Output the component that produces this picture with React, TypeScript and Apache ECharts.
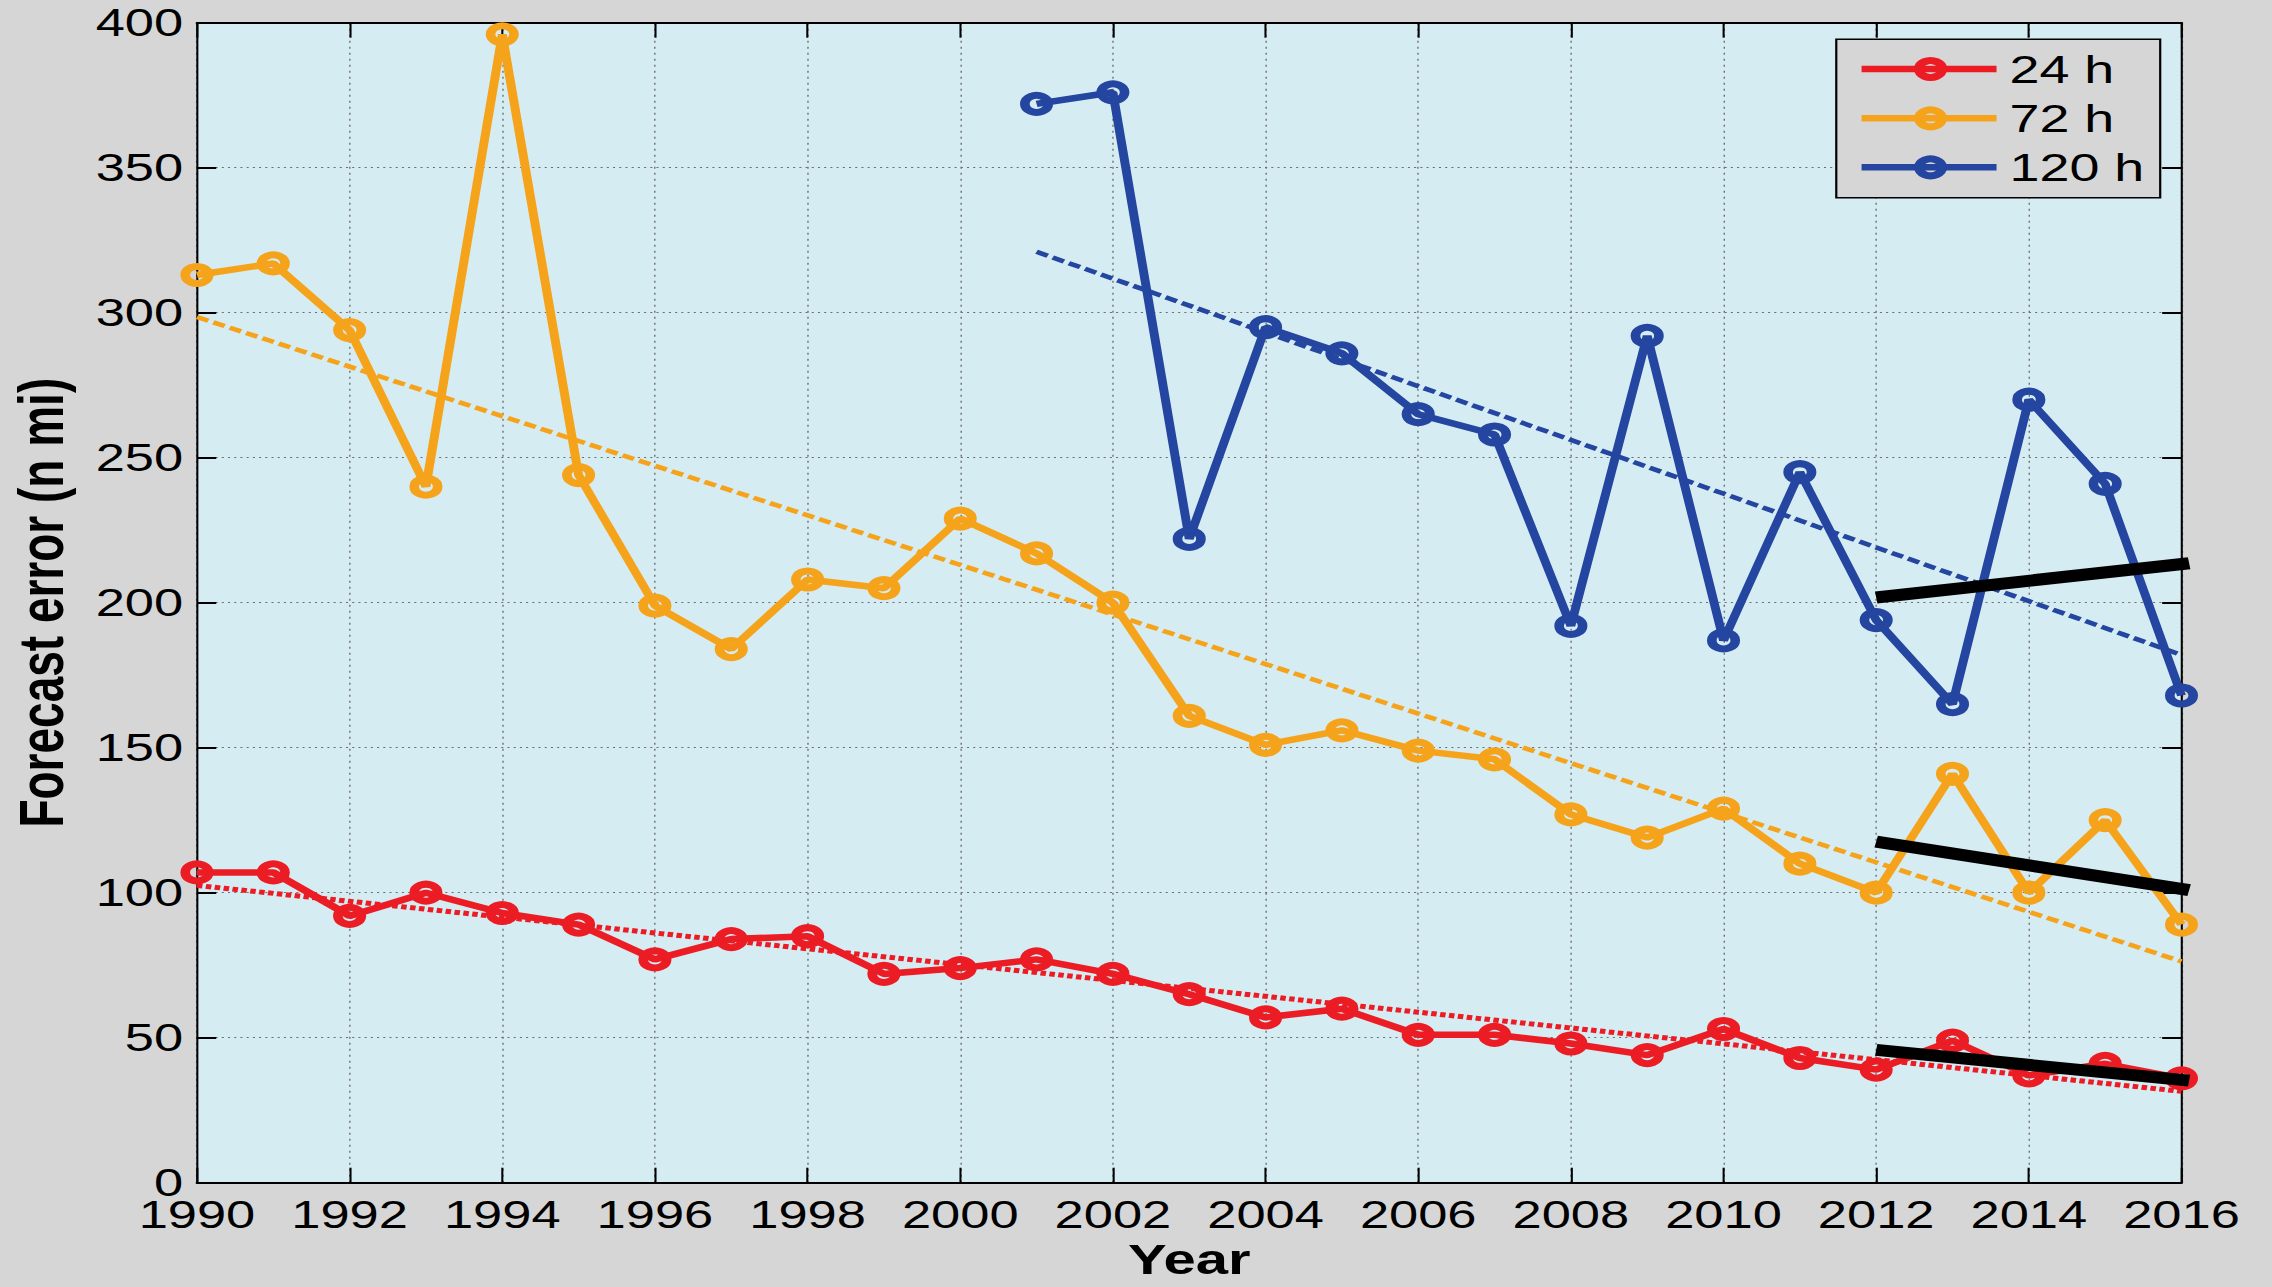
import React, { useEffect, useRef } from "react";
import * as echarts from "echarts";

// ---- data ----
const years = [1990, 1991, 1992, 1993, 1994, 1995, 1996, 1997, 1998, 1999, 2000, 2001, 2002, 2003, 2004, 2005, 2006, 2007, 2008, 2009, 2010, 2011, 2012, 2013, 2014, 2015, 2016];
const err24 = [107, 107, 92, 100, 93, 89, 77, 84, 85, 72, 74, 77, 72, 65, 57, 60, 51, 51, 48, 44, 53, 43, 39, 49, 37, 41, 36];
const err72 = [313, 317, 294, 240, 396, 244, 199, 184, 208, 205, 229, 217, 200, 161, 151, 156, 149, 146, 127, 119, 129, 110, 100, 141, 100, 125, 89];
const years120 = [2001, 2002, 2003, 2004, 2005, 2006, 2007, 2008, 2009, 2010, 2011, 2012, 2013, 2014, 2015, 2016];
const err120 = [372, 376, 222, 295, 286, 265, 258, 192, 292, 187, 245, 194, 165, 270, 241, 168];

// linear trend lines (end points)
const trendYears = [1990, 2016];
const trend24 = [102.5, 31.5];
const trend72 = [298.5, 76.3];
const trendYears120 = [2001, 2016];
const trend120 = [321, 182];

// thick black recent trends
const recentYears = [2012, 2016.1];
const recent24 = [45.8, 35.2];
const recent72 = [117.6, 100.9];
const recent120 = [201.8, 213.6];

const legendNames = ["24 h", "72 h", "120 h"];
const yTickStep = 50;
const xTickStep = 2;

// ---- styling ----
const RED = "#ec1c24";
const ORANGE = "#f6a31c";
const BLUE = "#2445a0";
const PAGE_BG = "#d6d6d6";
const PLOT_BG = "#d5ecf2";
const FONT = "Liberation Sans";

const W = 2272;
const H = 1287;
const STRETCH = 1.38;

function pairs(xs: number[], ys: number[]) {
  return xs.map((x, i) => [x, ys[i]]);
}

export default function App() {
  const ref = useRef<HTMLDivElement>(null);

  useEffect(() => {
    if (!ref.current) return;
    const el = ref.current;
    const chart = echarts.init(el, null, { renderer: "svg" });

    const cw = el.clientWidth || W / STRETCH;
    const ch = el.clientHeight || H;
    const fx = (cw * STRETCH) / W;
    const fy = ch / H;
    const X = (fullX: number) => (fullX * fx) / STRETCH;
    const Y = (fullY: number) => fullY * fy;

    const gLeft = X(197);
    const gRight = X(2182);
    const gTop = Y(22.7);
    const gBottom = Y(1182.7);

    const dataSeries = (name: string, xs: number[], ys: number[], color: string) => ({
      type: "line",
      name,
      data: pairs(xs, ys),
      symbol: "circle",
      symbolSize: 17,
      showSymbol: true,
      showAllSymbol: true,
      itemStyle: { color: "rgba(0,0,0,0)", borderColor: color, borderWidth: 7 },
      lineStyle: { color, width: 6.5 },
      z: 3,
      silent: true,
    });
    const trendSeries = (xs: number[], ys: number[], color: string, width: number, dash: number[]) => ({
      type: "line",
      data: pairs(xs, ys),
      symbol: "none",
      lineStyle: { color, width, type: dash },
      z: 4,
      silent: true,
    });
    const blackSeries = (ys: number[]) => ({
      type: "line",
      data: pairs(recentYears, ys),
      symbol: "none",
      clip: false,
      lineStyle: { color: "#000", width: 12, cap: "butt" },
      z: 5,
      silent: true,
    });

    const legendColors = [RED, ORANGE, BLUE];
    const rowsY = [69, 118.3, 167.3].map(Y);
    const lx0 = X(1862);
    const lx1 = X(1997);
    const lcx = X(1931);
    const legendGraphics: any[] = [
      {
        type: "rect",
        shape: { x: X(1836.7), y: Y(39.3), width: X(2160.7) - X(1836.7), height: Y(197.7) - Y(39.3) },
        style: { fill: PAGE_BG, stroke: "#000", lineWidth: 1.6 },
        z: 100,
      },
    ];
    legendNames.forEach((n, i) => {
      legendGraphics.push({
        type: "line",
        shape: { x1: lx0, y1: rowsY[i], x2: lx1, y2: rowsY[i] },
        style: { stroke: legendColors[i], lineWidth: 6.5 },
        z: 101,
      });
      legendGraphics.push({
        type: "circle",
        shape: { cx: lcx, cy: rowsY[i], r: 8.5 },
        style: { fill: "rgba(0,0,0,0)", stroke: legendColors[i], lineWidth: 7 },
        z: 102,
      });
      legendGraphics.push({
        type: "text",
        x: X(2010),
        y: rowsY[i],
        style: {
          text: n,
          fill: "#000",
          font: `39px "${FONT}"`,
          textAlign: "left",
          textVerticalAlign: "middle",
        },
        z: 102,
      });
    });

    const commonX = {
      type: "value",
      min: 1990,
      max: 2016,
      interval: xTickStep,
    };
    const commonY = {
      type: "value",
      min: 0,
      max: 400,
      interval: yTickStep,
    };

    const option: any = {
      animation: false,
      backgroundColor: PAGE_BG,
      grid: {
        left: gLeft,
        top: gTop,
        width: gRight - gLeft,
        height: gBottom - gTop,
        show: true,
        backgroundColor: PLOT_BG,
        borderWidth: 0,
        containLabel: false,
        outerBoundsMode: "none",
      },
      xAxis: [
        {
          ...commonX,
          position: "bottom",
          name: "Year",
          nameLocation: "middle",
          nameGap: 58,
          nameTextStyle: { fontFamily: FONT, fontSize: 42, fontWeight: "bold", color: "#000", lineHeight: 38 },
          axisLine: { show: true, onZero: false, lineStyle: { color: "#000", width: 2 } },
          axisTick: { show: true, inside: true, length: 15, lineStyle: { color: "#000", width: 1.5 } },
          axisLabel: {
            show: true,
            margin: 13,
            fontFamily: FONT,
            fontSize: 38,
            color: "#000",
            formatter: (v: number) => String(v),
          },
          splitLine: { show: true, lineStyle: { color: "#6f6f6f", width: 1, type: [2, 4] } },
        },
        {
          ...commonX,
          position: "top",
          axisLine: { show: true, onZero: false, lineStyle: { color: "#000", width: 2 } },
          axisTick: { show: true, inside: true, length: 15, lineStyle: { color: "#000", width: 1.5 } },
          axisLabel: { show: false },
          splitLine: { show: false },
        },
      ],
      yAxis: [
        {
          ...commonY,
          position: "left",
          name: "Forecast error (n mi)",
          nameLocation: "middle",
          nameGap: 90,
          nameTextStyle: { fontFamily: FONT, fontSize: 46, fontWeight: "bold", color: "#000" },
          axisLine: { show: true, onZero: false, lineStyle: { color: "#000", width: 1.5 } },
          axisTick: { show: true, inside: true, length: 14, lineStyle: { color: "#000", width: 2 } },
          axisLabel: { show: true, margin: 10, fontFamily: FONT, fontSize: 38, color: "#000" },
          splitLine: { show: true, lineStyle: { color: "#6f6f6f", width: 1, type: [1.5, 3] } },
        },
        {
          ...commonY,
          position: "right",
          axisLine: { show: true, onZero: false, lineStyle: { color: "#000", width: 1.5 } },
          axisTick: { show: true, inside: true, length: 14, lineStyle: { color: "#000", width: 2 } },
          axisLabel: { show: false },
          splitLine: { show: false },
        },
      ],
      series: [
        dataSeries("24 h", years, err24, RED),
        dataSeries("72 h", years, err72, ORANGE),
        dataSeries("120 h", years120, err120, BLUE),
        trendSeries(trendYears, trend24, RED, 5, [4, 2.5]),
        trendSeries(trendYears, trend72, ORANGE, 4.5, [9, 4]),
        trendSeries(trendYears120, trend120, BLUE, 4.5, [9, 4]),
        blackSeries(recent120),
        blackSeries(recent72),
        blackSeries(recent24),
      ],
      graphic: legendGraphics,
    };

    chart.setOption(option);
    return () => chart.dispose();
  }, []);

  return (
    <div
      style={{
        position: "fixed",
        left: 0,
        top: 0,
        width: "100vw",
        height: "100vh",
        background: PAGE_BG,
        overflow: "hidden",
      }}
    >
      <div
        ref={ref}
        style={{
          width: `${100 / STRETCH}vw`,
          height: "100vh",
          transform: `scaleX(${STRETCH})`,
          transformOrigin: "0 0",
        }}
      />
    </div>
  );
}
